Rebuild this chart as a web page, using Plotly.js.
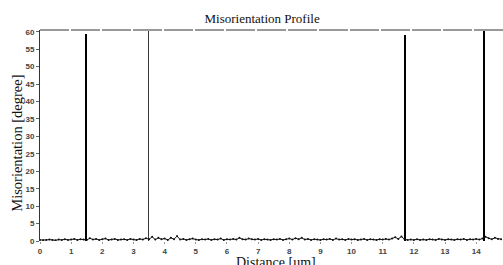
<!DOCTYPE html>
<html>
<head>
<meta charset="utf-8">
<script src="https://cdn.plot.ly/plotly-3.0.1.min.js"></script>
<style>html,body{margin:0;padding:0;background:#fff;}#chart{width:503px;height:265px;}</style>
</head>
<body>
<div id="chart"></div>
<script>
// Background misorientation along the scan line (um, degree)
const distance = [
  0.0,0.1,0.2,0.3,0.4,0.5,0.6,0.7,0.8,0.9,
  1.0,1.1,1.2,1.3,1.4,1.5,1.6,1.7,1.8,1.9,
  2.0,2.1,2.2,2.3,2.4,2.5,2.6,2.7,2.8,2.9,
  3.0,3.1,3.2,3.3,3.4,3.5,3.6,3.7,3.8,3.9,
  4.0,4.1,4.2,4.3,4.4,4.5,4.6,4.7,4.8,4.9,
  5.0,5.1,5.2,5.3,5.4,5.5,5.6,5.7,5.8,5.9,
  6.0,6.1,6.2,6.3,6.4,6.5,6.6,6.7,6.8,6.9,
  7.0,7.1,7.2,7.3,7.4,7.5,7.6,7.7,7.8,7.9,
  8.0,8.1,8.2,8.3,8.4,8.5,8.6,8.7,8.8,8.9,
  9.0,9.1,9.2,9.3,9.4,9.5,9.6,9.7,9.8,9.9,
  10.0,10.1,10.2,10.3,10.4,10.5,10.6,10.7,10.8,10.9,
  11.0,11.1,11.2,11.3,11.4,11.5,11.6,11.7,11.8,11.9,
  12.0,12.1,12.2,12.3,12.4,12.5,12.6,12.7,12.8,12.9,
  13.0,13.1,13.2,13.3,13.4,13.5,13.6,13.7,13.8,13.9,
  14.0,14.1,14.2,14.3,14.4,14.5,14.6,14.7,14.8
];
const misorientation = [
  0.3,0.2,0.3,0.4,0.3,0.2,0.4,0.3,0.5,0.3,
  0.4,0.6,0.3,0.5,0.4,0.3,0.8,0.4,0.6,0.3,
  0.5,0.7,0.3,0.4,0.6,0.3,0.4,0.5,0.3,0.6,
  0.4,0.3,0.6,0.4,0.8,0.5,1.2,0.4,0.9,0.5,
  0.7,0.3,0.9,0.5,1.4,0.4,0.6,0.3,0.5,0.7,
  0.4,0.3,0.5,0.4,0.6,0.3,0.5,0.4,0.7,0.3,
  0.5,0.4,0.6,0.4,0.9,0.5,0.4,0.7,0.5,0.4,
  0.6,0.3,0.5,0.4,0.3,0.5,0.4,0.6,0.3,0.5,
  0.7,0.4,0.8,0.5,0.9,0.4,0.6,0.3,0.5,0.4,
  0.3,0.5,0.4,0.6,0.3,0.7,0.4,0.5,0.3,0.6,
  0.4,0.5,0.3,0.4,0.6,0.3,0.5,0.4,0.3,0.5,
  0.4,0.6,0.4,0.7,1.1,0.6,1.3,0.5,0.3,0.4,
  0.3,0.5,0.3,0.4,0.3,0.5,0.4,0.3,0.6,0.4,
  0.3,0.5,0.4,0.3,0.5,0.4,0.6,0.3,0.5,0.4,
  0.6,0.4,0.7,1.2,0.8,0.5,0.9,0.6,0.5
];
// Grain boundaries (high-angle spikes)
const boundaryDistance = [1.49, 3.49, 11.73, 14.24];
const boundaryAngle = [59.4, 61, 59.1, 61];
const xTickVals = [0,1,2,3,4,5,6,7,8,9,10,11,12,13,14];
const yTickVals = [0,5,10,15,20,25,30,35,40,45,50,55,60];

const tickFont = {family: 'Liberation Sans, Arial, sans-serif', size: 8, color: '#444', weight: 'bold'};
const serif = 'Liberation Serif, Times New Roman, serif';

const traces = [
  {
    type: 'scatter', mode: 'lines+markers',
    x: distance, y: misorientation,
    line: {color: '#111', width: 1},
    marker: {color: '#111', size: 2},
    hoverinfo: 'skip', showlegend: false
  },
  {
    type: 'bar',
    x: boundaryDistance, y: boundaryAngle,
    width: [0.065, 0.045, 0.065, 0.065],
    marker: {color: ['#000', '#3a3a3a', '#000', '#000'], line: {width: 0}},
    hoverinfo: 'skip', showlegend: false
  }
];

const layout = {
  width: 503, height: 265,
  margin: {l: 40, r: 0, t: 30, b: 24, pad: 0},
  paper_bgcolor: '#fff', plot_bgcolor: '#fff',
  bargap: 0,
  title: {
    text: 'Misorientation Profile',
    font: {family: serif, size: 13, color: '#111'},
    x: 0.521, xanchor: 'center', y: 0.932, yanchor: 'middle'
  },
  xaxis: {
    range: [0, 14.86],
    tickvals: xTickVals,
    ticktext: xTickVals.map(String),
    tickfont: tickFont,
    ticks: 'outside', ticklen: 2, tickcolor: '#999',
    showline: false, showgrid: false, zeroline: false,
    automargin: false
  },
  yaxis: {
    range: [0, 60.5],
    tickvals: yTickVals,
    ticktext: yTickVals.map(String),
    tickfont: tickFont,
    ticks: 'outside', ticklen: 3, tickcolor: '#666',
    showline: true, linecolor: '#333', linewidth: 1,
    showgrid: false, zeroline: false,
    automargin: false
  },
  annotations: [
    {text: 'Distance [um]', xref: 'paper', yref: 'paper', x: 0.51, y: -0.1, xanchor: 'center', yanchor: 'middle',
     showarrow: false, font: {family: serif, size: 14, color: '#111'}},
    {text: 'Misorientation [degree]', xref: 'paper', yref: 'paper', x: -0.05, y: 0.465, xanchor: 'center', yanchor: 'middle',
     textangle: -90, showarrow: false, font: {family: serif, size: 14.5, color: '#111'}}
  ],
  shapes: [
    {type: 'line', xref: 'paper', yref: 'paper', x0: 0, x1: 1, y0: 1, y1: 1,
     line: {color: '#999', width: 2, dash: '29px,2px'}}
  ]
};

Plotly.newPlot('chart', traces, layout, {staticPlot: true, displayModeBar: false});
</script>
</body>
</html>
